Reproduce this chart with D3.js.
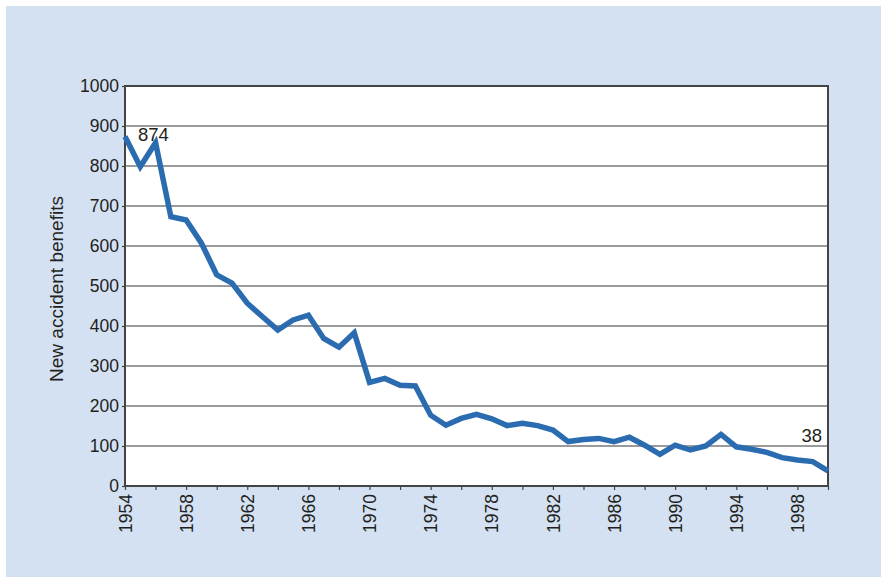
<!DOCTYPE html>
<html>
<head>
<meta charset="utf-8">
<script src="https://cdn.jsdelivr.net/npm/d3@7/dist/d3.min.js"></script>
<style>
  html, body { margin: 0; padding: 0; background: #ffffff; }
  svg { display: block; }
  text { font-family: "Liberation Sans", Arial, Helvetica, sans-serif; fill: #231f20; }
</style>
</head>
<body>
<svg id="chart" width="881" height="577"></svg>
<script>
// Yearly counts of new accident benefits, 1954-2000
const years = d3.range(1954, 2001);
const benefits = [
  874, 798, 858, 673, 665, 607, 528, 507, 457, 423,
  390, 415, 427, 369, 347, 383, 259, 269, 252, 250,
  177, 152, 169, 179, 168, 151, 157, 151, 140, 111,
  116, 119, 111, 122, 102, 79, 102, 90, 100, 129,
  98, 92, 84, 71, 65, 61, 38
];
const yTicks = d3.range(0, 1001, 100);
const xMinorTicks = d3.range(1954, 2001, 2);
const xLabelTicks = d3.range(1954, 2000, 4);
const yTitle = "New accident benefits";

const svg = d3.select("#chart");
const FONT = "'Liberation Sans', Arial, Helvetica, sans-serif";

// panel background
svg.append("rect")
  .attr("x", 6).attr("y", 6).attr("width", 875).attr("height", 571)
  .attr("fill", "#d4e1f2");

const plot = { left: 125, right: 828, top: 86, bottom: 486 };

const x = d3.scaleLinear().domain([1954, 2000]).range([plot.left, plot.right]);
const y = d3.scaleLinear().domain([0, 1000]).range([plot.bottom, plot.top]);

// plotting area
svg.append("rect")
  .attr("x", plot.left).attr("y", plot.top)
  .attr("width", plot.right - plot.left).attr("height", plot.bottom - plot.top)
  .attr("fill", "#ffffff");

// horizontal gridlines
svg.append("g")
  .selectAll("line")
  .data(yTicks.filter(d => d > 0 && d < 1000))
  .join("line")
  .attr("x1", plot.left).attr("x2", plot.right)
  .attr("y1", d => y(d)).attr("y2", d => y(d))
  .attr("stroke", "#7a7a7a").attr("stroke-width", 1.5);

// y axis
const yAxis = svg.append("g")
  .attr("transform", `translate(${plot.left},0)`)
  .call(d3.axisLeft(y).tickValues(yTicks).tickSize(3).tickPadding(3).tickFormat(d3.format("d")));
yAxis.select(".domain").remove();
yAxis.selectAll(".tick line").attr("stroke", "#444").attr("stroke-width", 1.2);
yAxis.selectAll(".tick text")
  .attr("font-size", 17.5)
  .attr("fill", "#231f20")
  .style("font-family", FONT);

// x axis: ticks every two years, labels every four
const xAxis = svg.append("g")
  .attr("transform", `translate(0,${plot.bottom})`)
  .call(d3.axisBottom(x).tickValues(xMinorTicks).tickSize(4)
    .tickFormat(d => xLabelTicks.includes(d) ? String(d) : ""));
xAxis.select(".domain").remove();
xAxis.selectAll(".tick line").attr("stroke", "#444").attr("stroke-width", 1.2);
xAxis.selectAll(".tick text")
  .attr("font-size", 17.5)
  .attr("fill", "#231f20")
  .style("font-family", FONT)
  .attr("transform", "rotate(-90)")
  .attr("text-anchor", "end")
  .attr("x", -8)
  .attr("y", 0)
  .attr("dy", "0.35em");

// plot frame
svg.append("rect")
  .attr("x", plot.left).attr("y", plot.top)
  .attr("width", plot.right - plot.left).attr("height", plot.bottom - plot.top)
  .attr("fill", "none").attr("stroke", "#444").attr("stroke-width", 2);

// y axis title
svg.append("text")
  .attr("transform", `translate(56,${(plot.top + plot.bottom) / 2 + 3}) rotate(-90)`)
  .attr("text-anchor", "middle")
  .attr("dy", "0.35em")
  .attr("font-size", 19)
  .text(yTitle);

// series line
const line = d3.line().x((d, i) => x(years[i])).y(d => y(d));
svg.append("path")
  .datum(benefits)
  .attr("d", line)
  .attr("fill", "none")
  .attr("stroke", "#2b6cb0")
  .attr("stroke-width", 5.5)
  .attr("stroke-linejoin", "miter");

// value annotations for first and last year
const first = benefits[0], last = benefits[benefits.length - 1];
svg.append("text")
  .attr("x", x(years[0]) + 13).attr("y", y(first) + 5)
  .attr("font-size", 18.5)
  .text(first);
svg.append("text")
  .attr("x", x(years[years.length - 1]) - 6).attr("y", y(last) - 29)
  .attr("text-anchor", "end")
  .attr("font-size", 18.5)
  .text(last);
</script>
</body>
</html>
